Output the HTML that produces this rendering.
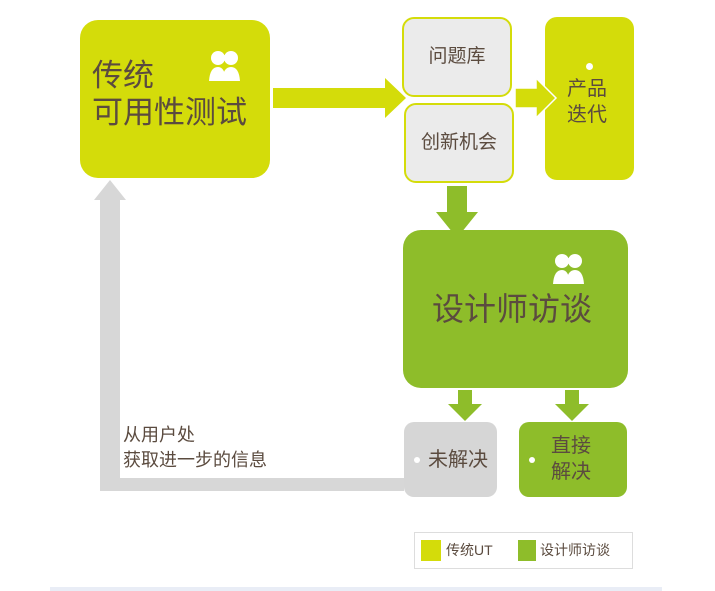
<!DOCTYPE html>
<html><head><meta charset="utf-8"><style>
body{margin:0;width:715px;height:591px;background:#fff;position:relative;overflow:hidden;font-family:"Liberation Sans","Noto Sans CJK SC",sans-serif;color:#5b4b3f}
div{position:absolute;box-sizing:border-box}
.t{white-space:nowrap}
</style></head><body>
<div style="left:80px;top:20px;width:190px;height:158px;background:#d4dc0a;border-radius:18px"></div>
<div class="t" style="left:92px;top:57px;font-size:31px;line-height:37px">传统<br>可用性测试</div>
<svg width="34" height="32" style="position:absolute;left:208px;top:50px"><circle cx="10" cy="8" r="7" fill="#fff"/><circle cx="23" cy="8" r="7" fill="#fff"/><path d="M1 31 Q2 17 10 17 Q17 17 18 31Z M14 31 Q15 17 23 17 Q31 17 32 31Z" fill="#fff"/></svg>
<div style="left:402px;top:17px;width:110px;height:80px;background:#ebebeb;border:2px solid #d4dc0a;border-radius:12px;font-size:19px;line-height:76px;text-align:center">问题库</div>
<div style="left:404px;top:103px;width:110px;height:80px;background:#ebebeb;border:2px solid #d4dc0a;border-radius:12px;font-size:19px;line-height:76px;text-align:center">创新机会</div>
<div style="left:545px;top:17px;width:89px;height:163px;background:#d4dc0a;border-radius:12px"></div>
<div style="left:586px;top:63px;width:7px;height:7px;border-radius:50%;background:#fff"></div>
<div class="t" style="left:567px;top:76px;font-size:20px;line-height:26px">产品<br>迭代</div>
<div style="left:403px;top:230px;width:225px;height:158px;background:#8ebd2a;border-radius:18px"></div>
<div class="t" style="left:432px;top:290px;font-size:32px;line-height:38px">设计师访谈</div>
<svg width="34" height="32" style="position:absolute;left:552px;top:253px"><circle cx="10" cy="8" r="7" fill="#fff"/><circle cx="23" cy="8" r="7" fill="#fff"/><path d="M1 31 Q2 17 10 17 Q17 17 18 31Z M14 31 Q15 17 23 17 Q31 17 32 31Z" fill="#fff"/></svg>
<div style="left:404px;top:422px;width:93px;height:75px;background:#d6d6d6;border-radius:10px"></div>
<div style="left:414px;top:457px;width:6px;height:6px;border-radius:50%;background:#fff"></div>
<div class="t" style="left:428px;top:447px;font-size:20px;line-height:26px">未解决</div>
<div style="left:519px;top:422px;width:108px;height:75px;background:#8ebd2a;border-radius:10px"></div>
<div style="left:529px;top:457px;width:6px;height:6px;border-radius:50%;background:#fff"></div>
<div class="t" style="left:551px;top:433px;font-size:20px;line-height:26px">直接<br>解决</div>
<div class="t" style="left:123px;top:423px;font-size:18px;line-height:25px">从用户处<br>获取进一步的信息</div>
<div style="left:414px;top:532px;width:219px;height:37px;border:1px solid #ddd"></div>
<div style="left:421px;top:540px;width:20px;height:21px;background:#d4dc0a"></div>
<div class="t" style="left:446px;top:541px;font-size:14px;line-height:18px">传统UT</div>
<div style="left:518px;top:540px;width:18px;height:21px;background:#8ebd2a"></div>
<div class="t" style="left:540px;top:541px;font-size:14px;line-height:18px">设计师访谈</div>
<div style="left:50px;top:587px;width:612px;height:4px;background:#e9edf6"></div>
<svg width="715" height="591" style="position:absolute;left:0;top:0">
 <polygon points="100,491 100,200 94,200 110,180 126,200 120,200 120,478 404,478 404,491" fill="#d7d7d7"/>
 <polygon points="273,88 385,88 385,78 406,98 385,118 385,108 273,108" fill="#d4dc0a"/>
 <polygon points="515,88 536,88 536,78 556,98 536,118 536,108 515,108" fill="#d4dc0a" stroke="#fff" stroke-width="1.5"/>
 <polygon points="447,186 467,186 467,212 478,212 457,238 436,212 447,212" fill="#8ebd2a"/>
 <polygon points="458,390 472,390 472,404 482,404 465,421 448,404 458,404" fill="#8ebd2a"/>
 <polygon points="565,390 579,390 579,404 589,404 572,421 555,404 565,404" fill="#8ebd2a"/>
</svg>
</body></html>
